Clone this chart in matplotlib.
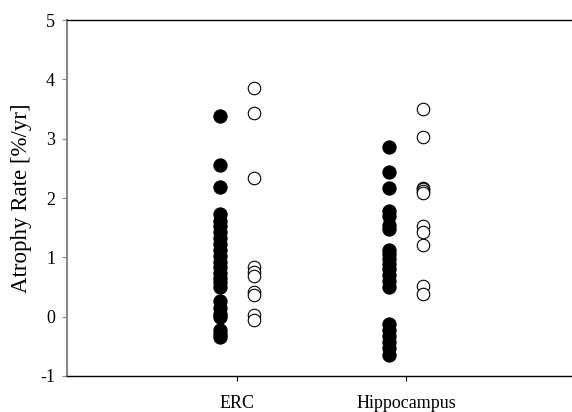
import matplotlib
matplotlib.use("Agg")
import matplotlib.pyplot as plt

# categories and values
regions = ["ERC", "Hippocampus"]
erc_filled = [3.38, 2.55, 2.18, 1.73, 1.62, 1.52, 1.42, 1.33, 1.22, 1.12, 1.02,
              0.92, 0.84, 0.74, 0.66, 0.58, 0.50, 0.26, 0.15, 0.05, 0.0,
              -0.22, -0.30, -0.35]
erc_open = [3.85, 3.43, 2.33, 0.83, 0.75, 0.68, 0.42, 0.37, 0.03, -0.06]
hip_filled = [2.86, 2.43, 2.17, 1.78, 1.70, 1.55, 1.48, 1.12, 1.05, 0.98, 0.88,
              0.80, 0.70, 0.60, 0.50, -0.13, -0.22, -0.32, -0.42, -0.52, -0.65]
hip_open = [3.50, 3.02, 2.17, 2.15, 2.12, 2.08, 1.53, 1.42, 1.21, 0.51, 0.38]
yticks = [-1, 0, 1, 2, 3, 4, 5]

plt.rcParams['font.family'] = ['Liberation Serif', 'DejaVu Serif']

fig = plt.figure(figsize=(5.72, 4.12), dpi=100)
ax = fig.add_axes([67 / 572, 36 / 412, 509 / 572, 356 / 412])

offset = 0.1
for i, (filled, hollow) in enumerate([(erc_filled, erc_open), (hip_filled, hip_open)]):
    pos = i + 1
    ax.plot([pos - offset] * len(filled), filled, 'o', ms=9.5,
            mfc='black', mec='black', mew=0.8, linestyle='none')
    ax.plot([pos + offset] * len(hollow), hollow, 'o', ms=9,
            mfc='white', mec='black', mew=0.8, linestyle='none')

ax.set_xlim(0, 3)
ax.set_ylim(-1, 5)
ax.set_xticks([1, 2])
ax.set_xticklabels(regions, fontsize=13)
ax.set_yticks(yticks)
ax.set_yticklabels([str(t) for t in yticks], fontsize=13)
ax.set_ylabel("Atrophy Rate [%/yr]", fontsize=16.5, labelpad=6)

ax.spines['right'].set_visible(False)
ax.spines['left'].set_color('#888888')
ax.spines['left'].set_linewidth(1.5)
ax.spines['top'].set_linewidth(1.0)
ax.spines['bottom'].set_linewidth(1.0)
ax.tick_params(axis='x', direction='out', length=3.6, width=0.8, pad=10)
ax.tick_params(axis='y', direction='out', length=3.6, width=0.8, pad=5,
               color='#888888')

fig.savefig("out.png", dpi=100)
